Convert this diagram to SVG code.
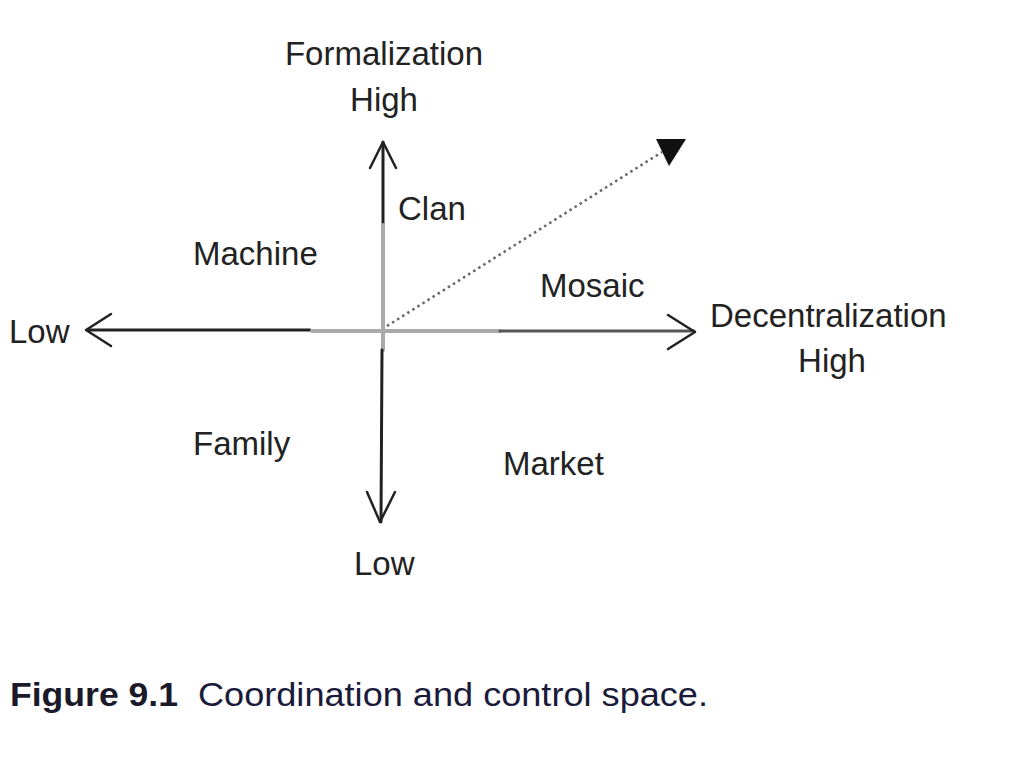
<svg xmlns="http://www.w3.org/2000/svg" width="1024" height="767" viewBox="0 0 1024 767">
<style>
.lbl{font-family:"Liberation Sans",Arial,sans-serif;font-size:33px;fill:#222}
.ax{fill:none;stroke-linecap:round}
.head{fill:none;stroke:#222;stroke-width:2.5;stroke-linecap:round;stroke-linejoin:round}
</style>
<rect width="1024" height="767" fill="#fff"/>
<g id="connectors">
<line class="ax" x1="88" y1="330" x2="310" y2="330" stroke="#222" stroke-width="3"/>
<line class="ax" x1="312" y1="331" x2="500" y2="331" stroke="#aaa" stroke-width="4"/>
<line class="ax" x1="500" y1="331" x2="694" y2="331" stroke="#555" stroke-width="3"/>
<line class="ax" x1="383" y1="142" x2="383" y2="225" stroke="#222" stroke-width="3"/>
<line class="ax" x1="383" y1="225" x2="383" y2="350" stroke="#aaa" stroke-width="4"/>
<line class="ax" x1="382" y1="350" x2="381" y2="522" stroke="#222" stroke-width="3"/>
<polyline class="head" points="370,168 383,142 396,168"/>
<polyline class="head" points="111,314 86,330 111,346"/>
<polyline class="head" points="668,315 695,332 668,349"/>
<polyline class="head" points="367,492 380,522 395,492"/>
<line x1="387" y1="326" x2="662" y2="152" stroke="#666" stroke-width="2.5" stroke-dasharray="2.5,3.5"/>
<polygon points="656,139 686,139 669,166" fill="#111"/>
</g>
<g id="formalization"><text class="lbl" x="384" y="65" text-anchor="middle">Formalization</text><text class="lbl" x="384" y="111" text-anchor="middle">High</text></g>
<g id="clan"><text class="lbl" x="398" y="220">Clan</text></g>
<g id="machine"><text class="lbl" x="193" y="265">Machine</text></g>
<g id="mosaic"><text class="lbl" x="540" y="297">Mosaic</text></g>
<g id="low-left"><text class="lbl" x="9" y="343">Low</text></g>
<g id="decentralization"><text class="lbl" x="710" y="327">Decentralization</text><text class="lbl" x="832" y="372" text-anchor="middle">High</text></g>
<g id="family"><text class="lbl" x="193" y="455">Family</text></g>
<g id="market"><text class="lbl" x="503" y="475">Market</text></g>
<g id="low-bottom"><text class="lbl" x="354" y="575">Low</text></g>
<g id="caption">
<text x="10" y="706" font-family="'Liberation Sans',Arial,sans-serif" font-weight="bold" font-size="34" fill="#1a1a2a" textLength="168" lengthAdjust="spacingAndGlyphs">Figure 9.1</text>
<text x="198" y="706" font-family="'Liberation Sans',Arial,sans-serif" font-size="34" fill="#1a1a3a" textLength="510" lengthAdjust="spacingAndGlyphs">Coordination and control space.</text>
</g>
</svg>
